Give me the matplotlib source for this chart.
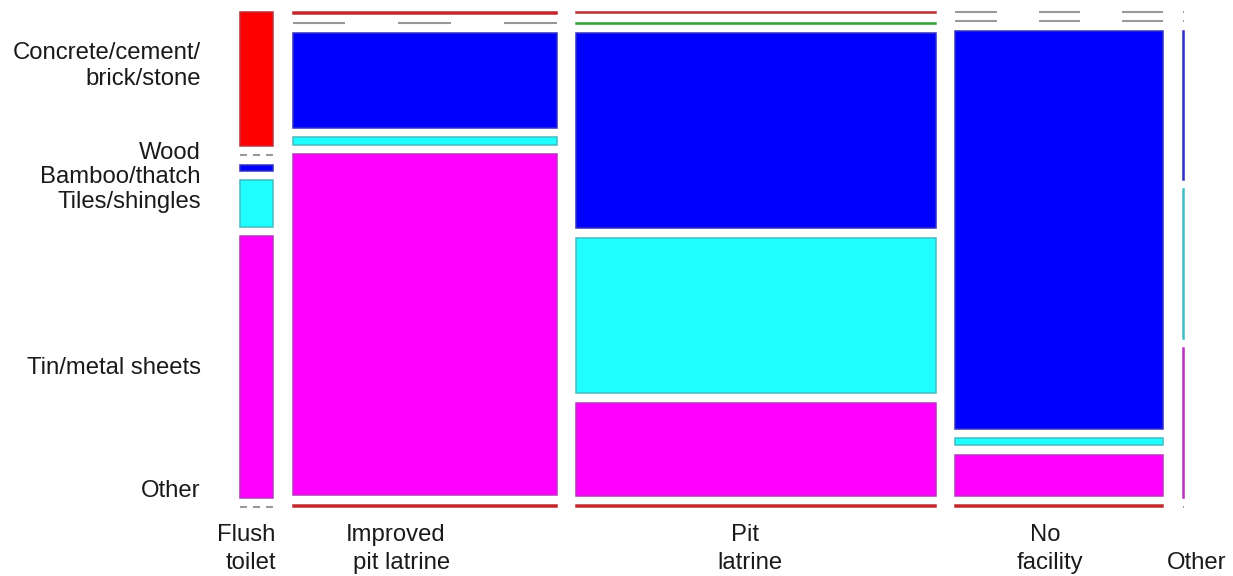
import matplotlib.pyplot as plt
from matplotlib.colors import to_rgb
from matplotlib.patches import Rectangle

# toilet facility (columns) and roofing material (rows)
toilets = ["Flush\ntoilet", "Improved\npit latrine", "Pit\nlatrine", "No\nfacility", "Other"]
roofs = ["Concrete/cement/\nbrick/stone", "Wood", "Bamboo/thatch",
         "Tiles/shingles", "Tin/metal sheets", "Other"]

# share of households per toilet type (%)
toilet_share = [3.8, 30.5, 41.5, 24.0, 0.12]

# roofing distribution within each toilet type (%)
flush = [29.9, 0.0, 1.3, 10.5, 58.3, 0.0]
improved = [0.4, 0.0, 21.3, 1.6, 76.2, 0.5]
pit = [0.3, 0.3, 43.5, 34.7, 20.8, 0.4]
no_facility = [0.0, 0.0, 88.8, 1.6, 9.2, 0.4]
other = [0.0, 0.0, 33.3, 33.4, 33.3, 0.0]
roof_pct = [flush, improved, pit, no_facility, other]

colors = ["#FF0000", "#00CD00", "#0000FF", "#1FFFFF", "#FF00FF", "#FF0000"]

fig = plt.figure(figsize=(12.33, 5.76), dpi=100)
ax = fig.add_axes([0, 0, 1, 1])
ax.set_xlim(0, 1233)
ax.set_ylim(576, 0)
ax.axis("off")

# mosaic area (pixel units)
x0, x1, y0, y1 = 240, 1184, 12, 507
xgap, ygap = 19.75, 9.4
avail_w = (x1 - x0) - (len(toilets) - 1) * xgap
avail_h = (y1 - y0) - (len(roofs) - 1) * ygap
tot = sum(toilet_share)
grey = (0.42, 0.42, 0.47)

x = x0
for share, pcts in zip(toilet_share, roof_pct):
    w = avail_w * share / tot
    y = y0
    for p, c in zip(pcts, colors):
        h = avail_h * p / 100
        if p == 0:
            d = w / 5
            for k in range(3):
                ax.plot([x + 2 * k * d, x + (2 * k + 1) * d], [y, y],
                        color="#999999", lw=1.5, solid_capstyle="butt")
        else:
            edge = tuple(0.55 * a + 0.45 * b for a, b in zip(to_rgb(c), grey))
            ax.add_patch(Rectangle((x, y), w, h, facecolor=c,
                                   edgecolor=edge, lw=1.1))
        y += h + ygap
    x += w + xgap

font = dict(family=["Liberation Sans", "DejaVu Sans"], fontsize=17.2, color="#1a1a1a")

# row labels
row_y = [66, 153, 177, 202, 368, 491]
for lab, yy in zip(roofs, row_y):
    ax.text(201, yy, lab, ha="right", va="center", linespacing=1.25, **font)

# column labels
col_x = [[246, 251], [396, 402], [745, 750], [1045, 1050], [1197]]
for lab, xs in zip(toilets, col_x):
    lines = lab.split("\n")
    ys = [563 - 28 * (len(lines) - 1 - i) for i in range(len(lines))]
    for line, xx, yy in zip(lines, xs, ys):
        ax.text(xx, yy, line, ha="center", va="center", **font)

fig.savefig("out.png", dpi=100)
